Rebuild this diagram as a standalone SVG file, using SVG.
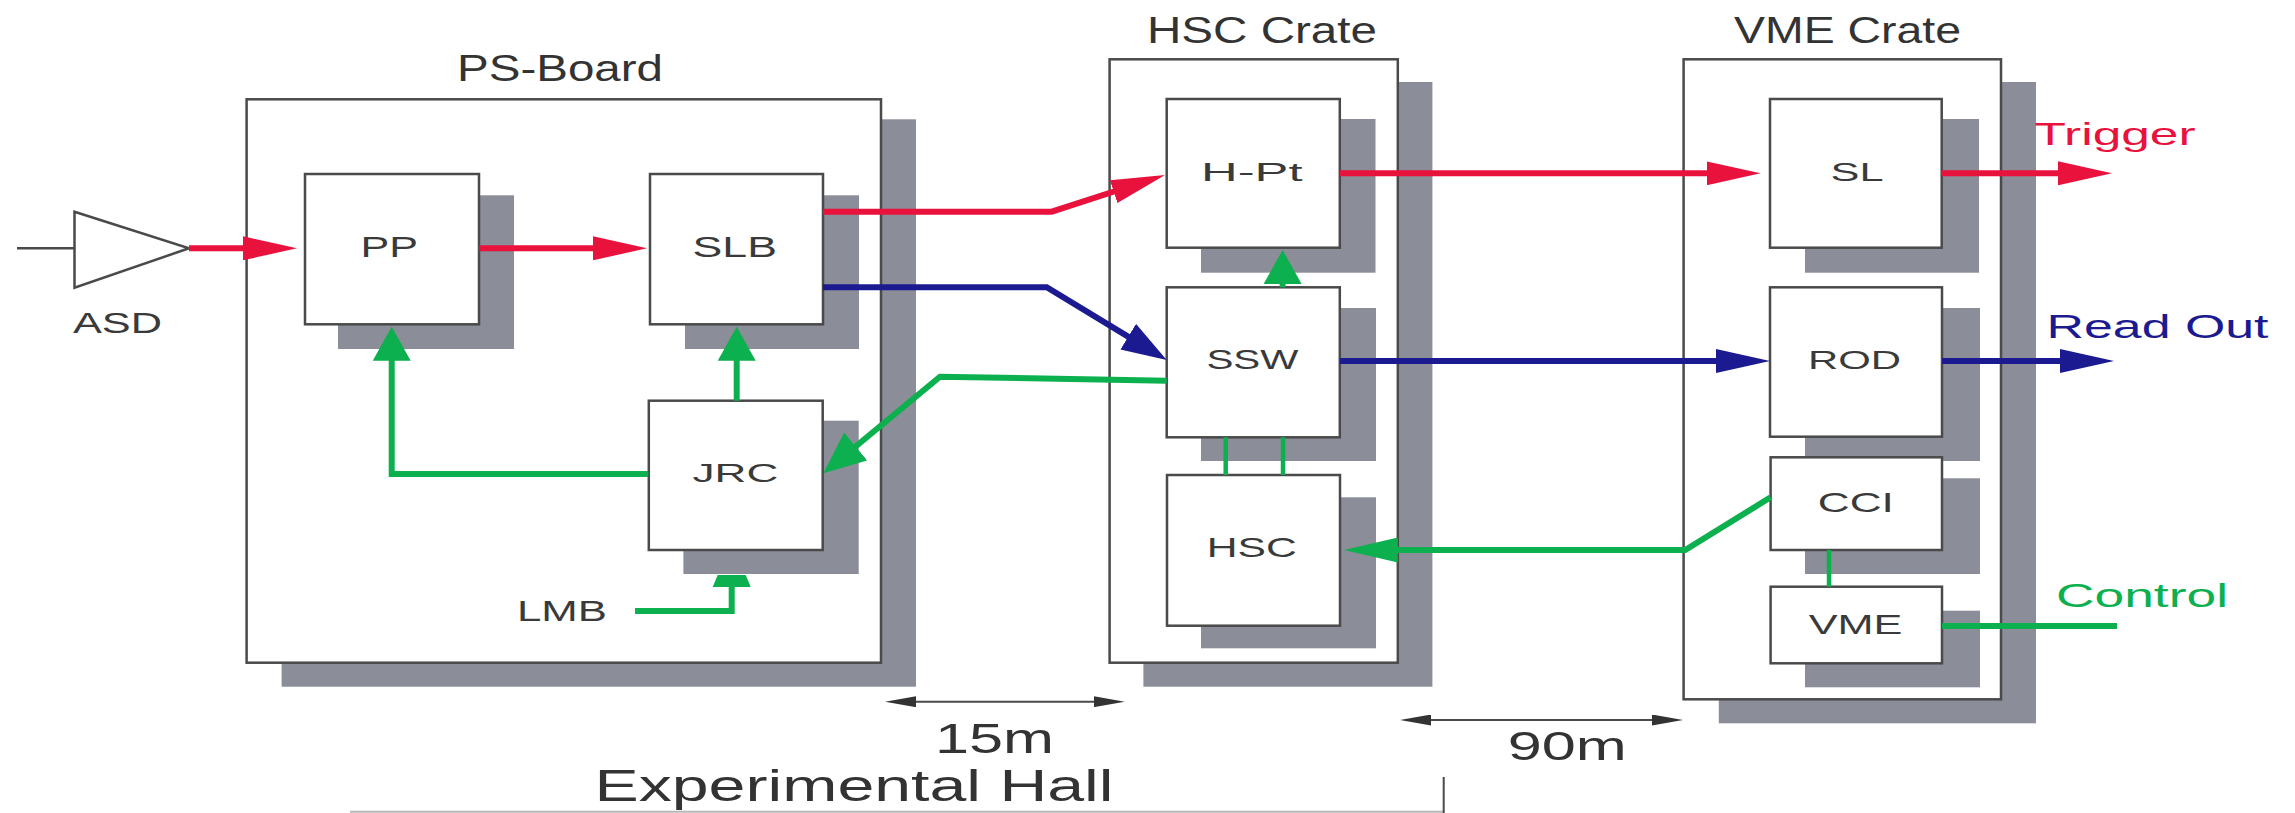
<svg xmlns="http://www.w3.org/2000/svg" width="2295" height="813" viewBox="0 0 2295 813">
<style>
.bg{fill:#ffffff}
.sh{fill:#8b8d98}
.bx{fill:#ffffff;stroke:#4a4a4a;stroke-width:2.5}
.t{font-family:"Liberation Sans",Arial,sans-serif;fill:#3a3a3a}
.ti{font-family:"Liberation Sans",Arial,sans-serif;fill:#333333}
.red{stroke:#e8123c;stroke-width:6;fill:none}
.blue{stroke:#1c1a90;stroke-width:6;fill:none}
.green{stroke:#0cb04e;stroke-width:6;fill:none}
.gthin{stroke:#0cb04e;stroke-width:4.5;fill:none}
.dim{stroke:#4a4a4a;stroke-width:2;fill:none}
</style>
<defs>
<marker id="aR" markerUnits="userSpaceOnUse" markerWidth="54" markerHeight="24" refX="28" refY="12" orient="auto"><path d="M0,0 L54,12 L0,24 z" fill="#e8123c"/></marker>
<marker id="aB" markerUnits="userSpaceOnUse" markerWidth="54" markerHeight="24" refX="28" refY="12" orient="auto"><path d="M0,0 L54,12 L0,24 z" fill="#1c1a90"/></marker>
<marker id="aG" markerUnits="userSpaceOnUse" markerWidth="54" markerHeight="25" refX="28" refY="12.5" orient="auto"><path d="M0,0 L54,12.5 L0,25 z" fill="#0cb04e"/></marker>
<marker id="aGv" markerUnits="userSpaceOnUse" markerWidth="34" markerHeight="38" refX="17" refY="19" orient="auto"><path d="M0,0 L34,19 L0,38 z" fill="#0cb04e"/></marker>
<marker id="aBd" markerUnits="userSpaceOnUse" markerWidth="45" markerHeight="30" refX="23" refY="15" orient="auto"><path d="M0,0 L45,15 L0,30 z" fill="#1c1a90"/></marker>
<marker id="aGd" markerUnits="userSpaceOnUse" markerWidth="42" markerHeight="36" refX="22" refY="18" orient="auto"><path d="M0,0 L42,18 L0,36 z" fill="#0cb04e"/></marker>
<marker id="aD" markerUnits="userSpaceOnUse" markerWidth="31" markerHeight="11" refX="16" refY="5.5" orient="auto-start-reverse"><path d="M0,0 L31,5.5 L0,11 z" fill="#333333"/></marker>
</defs>
<rect class="bg" x="0" y="0" width="2295" height="813"/>

<g id="ps-board">
<rect class="sh" x="281.6" y="119.3" width="634.4" height="567.4"/>
<rect class="bx" x="246.6" y="99.3" width="634.4" height="563.4"/>
<text class="ti" x="457" y="80.7" font-size="37" textLength="206" lengthAdjust="spacingAndGlyphs">PS-Board</text>
</g>
<g id="hsc-crate">
<rect class="sh" x="1143.4" y="82" width="289" height="604.7"/>
<rect class="bx" x="1109.6" y="59.3" width="288.2" height="603.4"/>
<text class="ti" x="1147" y="43.3" font-size="37" textLength="230" lengthAdjust="spacingAndGlyphs">HSC Crate</text>
</g>
<g id="vme-crate">
<rect class="sh" x="1718.8" y="82" width="317.2" height="641.3"/>
<rect class="bx" x="1683.6" y="59.3" width="317.4" height="640"/>
<text class="ti" x="1734" y="43" font-size="37" textLength="227" lengthAdjust="spacingAndGlyphs">VME Crate</text>
</g>

<g id="asd">
<path d="M74.5,211.7 L189,248.3 L74.5,287.7 z" fill="#ffffff" stroke="#4a4a4a" stroke-width="2.5"/>
<text class="t" x="73" y="332.7" font-size="29" textLength="89" lengthAdjust="spacingAndGlyphs">ASD</text>
</g>
<g id="pp">
<rect class="sh" x="338" y="195.3" width="176" height="153.7"/>
<rect class="bx" x="305" y="174" width="174" height="150.3"/>
<text class="t" x="360.5" y="257.3" font-size="30" textLength="57.5" lengthAdjust="spacingAndGlyphs">PP</text>
</g>
<g id="slb">
<rect class="sh" x="685" y="195.3" width="174" height="153.7"/>
<rect class="bx" x="650" y="174" width="173" height="150.3"/>
<text class="t" x="692.6" y="257.3" font-size="29" textLength="84.4" lengthAdjust="spacingAndGlyphs">SLB</text>
</g>
<g id="jrc">
<rect class="sh" x="683.4" y="420.7" width="175.3" height="153.3"/>
<rect class="bx" x="648.8" y="400.7" width="173.9" height="149.3"/>
<text class="t" x="692.6" y="481.7" font-size="26" textLength="85.7" lengthAdjust="spacingAndGlyphs">JRC</text>
</g>
<g id="lmb">
<text class="t" x="517" y="620.7" font-size="29" textLength="90" lengthAdjust="spacingAndGlyphs">LMB</text>
</g>
<g id="h-pt">
<rect class="sh" x="1201" y="119" width="174.5" height="153.7"/>
<rect class="bx" x="1166.7" y="99" width="173.1" height="148.7"/>
<text class="t" x="1201" y="181" font-size="26" textLength="101.5" lengthAdjust="spacingAndGlyphs">H-Pt</text>
</g>
<g id="ssw">
<rect class="sh" x="1201" y="308" width="175" height="153"/>
<rect class="bx" x="1166.7" y="287.3" width="173.1" height="150"/>
<text class="t" x="1206.4" y="369" font-size="27" textLength="92" lengthAdjust="spacingAndGlyphs">SSW</text>
</g>
<g id="hsc">
<rect class="sh" x="1201" y="497.3" width="175" height="151"/>
<rect class="bx" x="1167" y="475" width="173" height="150.7"/>
<text class="t" x="1206.7" y="557.3" font-size="28" textLength="90" lengthAdjust="spacingAndGlyphs">HSC</text>
</g>
<g id="sl">
<rect class="sh" x="1805" y="119" width="174" height="153.7"/>
<rect class="bx" x="1770" y="99" width="171.7" height="148.7"/>
<text class="t" x="1830.5" y="181" font-size="26" textLength="53" lengthAdjust="spacingAndGlyphs">SL</text>
</g>
<g id="rod">
<rect class="sh" x="1805" y="308" width="175" height="153"/>
<rect class="bx" x="1770" y="287.3" width="172" height="149.4"/>
<text class="t" x="1808" y="369" font-size="26" textLength="93" lengthAdjust="spacingAndGlyphs">ROD</text>
</g>
<g id="cci">
<rect class="sh" x="1805" y="478.3" width="175" height="95.7"/>
<rect class="bx" x="1770.6" y="457.3" width="171.4" height="92.7"/>
<text class="t" x="1817.8" y="511.7" font-size="28" textLength="76" lengthAdjust="spacingAndGlyphs">CCI</text>
</g>
<g id="vme">
<rect class="sh" x="1805" y="610.7" width="175" height="76.6"/>
<rect class="bx" x="1770.6" y="586.7" width="171.4" height="76.6"/>
<text class="t" x="1808.7" y="634.3" font-size="28" textLength="93.7" lengthAdjust="spacingAndGlyphs">VME</text>
</g>
<g id="labels">
<text x="2034.6" y="145" font-family="Liberation Sans, Arial, sans-serif" font-size="32" fill="#e8123c" textLength="161" lengthAdjust="spacingAndGlyphs">Trigger</text>
<text x="2046.5" y="338" font-family="Liberation Sans, Arial, sans-serif" font-size="34" fill="#1c1a90" textLength="222" lengthAdjust="spacingAndGlyphs">Read Out</text>
<text x="2056" y="607.3" font-family="Liberation Sans, Arial, sans-serif" font-size="33" fill="#0cb04e" textLength="172" lengthAdjust="spacingAndGlyphs">Control</text>
<text class="ti" x="935" y="752.5" font-size="43" textLength="119" lengthAdjust="spacingAndGlyphs">15m</text>
<text class="ti" x="594.5" y="801" font-size="44" textLength="519" lengthAdjust="spacingAndGlyphs">Experimental Hall</text>
<text class="ti" x="1507.7" y="760" font-size="40" textLength="119" lengthAdjust="spacingAndGlyphs">90m</text>
</g>

<g id="connectors">
<line x1="17" y1="248.3" x2="74.5" y2="248.3" stroke="#4a4a4a" stroke-width="2.5"/>
<line class="red" x1="189" y1="248.3" x2="271" y2="248.3" marker-end="url(#aR)"/>
<line class="red" x1="479" y1="248.3" x2="621" y2="248.3" marker-end="url(#aR)"/>
<polyline class="red" points="823,211.7 1051.7,211.7 1140.3,183" marker-end="url(#aR)"/>
<line class="red" x1="1339.8" y1="173.3" x2="1734.6" y2="173.3" marker-end="url(#aR)"/>
<line class="red" x1="1941.7" y1="173.3" x2="2086" y2="173.3" marker-end="url(#aR)"/>
<polyline class="blue" points="823,287.3 1046.7,287.3 1147.9,348.6" marker-end="url(#aBd)"/>
<line class="blue" x1="1339.8" y1="361" x2="1744" y2="361" marker-end="url(#aB)"/>
<line class="blue" x1="1942" y1="361" x2="2088" y2="361" marker-end="url(#aB)"/>
<polyline class="green" points="1166.7,380.7 940,376.7 838.7,460.5" marker-end="url(#aGd)"/>
<line class="green" x1="1282.6" y1="287.3" x2="1282.6" y2="267" marker-end="url(#aGv)"/>
<line class="green" x1="736.7" y1="400.7" x2="736.7" y2="343.7" marker-end="url(#aGv)"/>
<polyline class="green" points="648.3,474 391.7,474 391.7,343.7" marker-end="url(#aGv)"/>
<polyline class="green" points="635,611 731.7,611 731.7,586"/>
<polygon points="712.7,587 750.7,587 745.7,575 717.7,575" fill="#0cb04e"/>
<polyline class="green" points="1770.6,497.3 1685.2,550 1369.8,550" marker-end="url(#aG)"/>
<line class="gthin" x1="1829" y1="550" x2="1829" y2="586.7"/>
<line class="gthin" x1="1225.7" y1="437.3" x2="1225.7" y2="475"/>
<line class="gthin" x1="1283" y1="437.3" x2="1283" y2="475"/>
<line class="green" x1="1942" y1="626" x2="2117" y2="626"/>
<line class="dim" x1="900" y1="701.7" x2="1109.7" y2="701.7" marker-start="url(#aD)" marker-end="url(#aD)"/>
<line class="dim" x1="1415" y1="720" x2="1668" y2="720" marker-start="url(#aD)" marker-end="url(#aD)"/>
<line x1="350" y1="811.7" x2="1443.7" y2="811.7" stroke="#b8b8b8" stroke-width="2"/>
<line x1="1443.7" y1="777" x2="1443.7" y2="813" stroke="#4a4a4a" stroke-width="2"/>
</g>
</svg>
